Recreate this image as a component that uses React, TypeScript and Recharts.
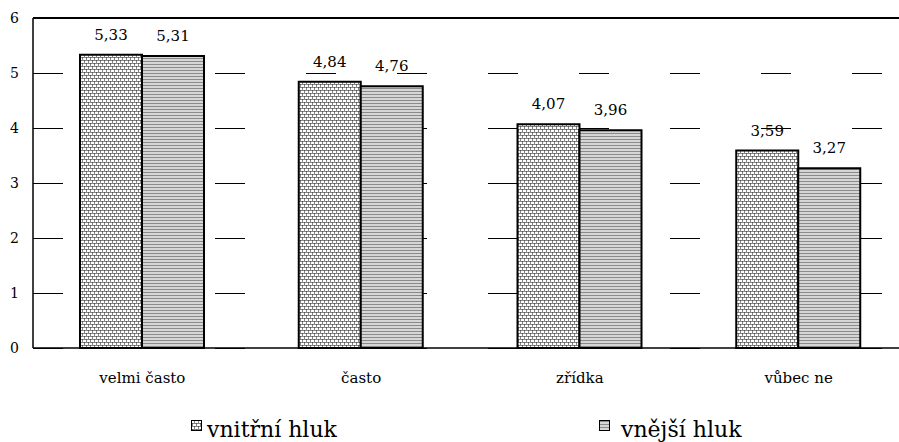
import { BarChart, Bar, XAxis, YAxis, CartesianGrid, ReferenceLine, LabelList, Legend } from "recharts";

const categories = ["velmi často", "často", "zřídka", "vůbec ne"];
const vnitrniHluk = [5.33, 4.84, 4.07, 3.59];
const vnejsiHluk = [5.31, 4.76, 3.96, 3.27];
const seriesNames = ["vnitřní hluk", "vnější hluk"];
const yTicks = [0, 1, 2, 3, 4, 5, 6];
const yMax = 6;

const data = categories.map((name, i) => ({ name, vnitrni: vnitrniHluk[i], vnejsi: vnejsiHluk[i] }));

const FONT = "DejaVu Serif";
const fmt = (v: any) => Number(v).toFixed(2).replace(".", ",");

function Patterns({ prefix }: { prefix: string }) {
  return (
    <defs>
      <pattern id={`${prefix}brick`} width={4} height={6} patternUnits="userSpaceOnUse">
        <rect width={4} height={6} fill="#fff" />
        <path d="M0 0.5H4M0.5 0V3M0 3.5H4M2.5 3V6" stroke="#333" strokeWidth={0.6} fill="none" />
      </pattern>
      <pattern id={`${prefix}stripe`} width={4} height={3} patternUnits="userSpaceOnUse">
        <rect width={4} height={3} fill="#d6d6d6" />
        <path d="M0 1.5H4" stroke="#8a8a8a" strokeWidth={1} />
      </pattern>
    </defs>
  );
}

function LegendBox() {
  return (
    <svg width={908} height={37} style={{ display: "block" }}>
      <Patterns prefix="lg" />
      <rect x={191.5} y={15.5} width={10} height={10} fill="url(#lgbrick)" stroke="#000" />
      <text x={207} y={32} fontSize={22} fontFamily={FONT} fill="#000">{seriesNames[0]}</text>
      <rect x={599.5} y={15.5} width={10} height={10} fill="url(#lgstripe)" stroke="#000" />
      <text x={621} y={32} fontSize={22} fontFamily={FONT} fill="#000">{seriesNames[1]}</text>
    </svg>
  );
}

// grid rows from the plot offset, nudged half a pixel so the 1px dashes stay crisp
const gridRows = (p: any) => {
  const o = p.offset || {};
  return yTicks.map((t) => o.top + o.height * (1 - t / yMax) + 0.5);
};

export default function App() {
  return (
    <div style={{ position: "absolute", left: 0, top: 0, width: 899, height: 442, overflow: "hidden", background: "#fff" }}>
      <BarChart
        width={908}
        height={442}
        data={data}
        margin={{ top: 18, right: 0, left: 0, bottom: 54 }}
        barGap={0}
      >
        <Patterns prefix="ch" />
        <CartesianGrid vertical={false} stroke="#000" strokeDasharray="30 61" horizontalCoordinatesGenerator={gridRows} />
        <XAxis
          dataKey="name"
          height={40}
          tickLine={false}
          tickMargin={18}
          axisLine={{ stroke: "#000", strokeWidth: 1.5 }}
          tick={{ fill: "#000", fontSize: 15, fontFamily: FONT }}
        />
        <YAxis
          width={33}
          domain={[0, yMax]}
          ticks={yTicks}
          tickLine={false}
          tickMargin={8}
          axisLine={{ stroke: "#000", strokeWidth: 1.5 }}
          tick={{ fill: "#000", fontSize: 14, fontFamily: FONT }}
        />
        <ReferenceLine y={yMax} stroke="#000" strokeWidth={2} />
        <Bar dataKey="vnitrni" name={seriesNames[0]} fill="url(#chbrick)" stroke="#000" strokeWidth={2} barSize={62} isAnimationActive={false}>
          <LabelList dataKey="vnitrni" position="top" offset={15} formatter={fmt} fill="#000" fontSize={15} fontFamily={FONT} />
        </Bar>
        <Bar dataKey="vnejsi" name={seriesNames[1]} fill="url(#chstripe)" stroke="#000" strokeWidth={2} barSize={62} isAnimationActive={false}>
          <LabelList dataKey="vnejsi" position="top" offset={15} formatter={fmt} fill="#000" fontSize={15} fontFamily={FONT} />
        </Bar>
        <Legend
          layout="vertical"
          align="center"
          verticalAlign="middle"
          wrapperStyle={{ left: 0, top: 405, width: 908, height: 37 }}
          content={() => <LegendBox />}
        />
      </BarChart>
    </div>
  );
}
